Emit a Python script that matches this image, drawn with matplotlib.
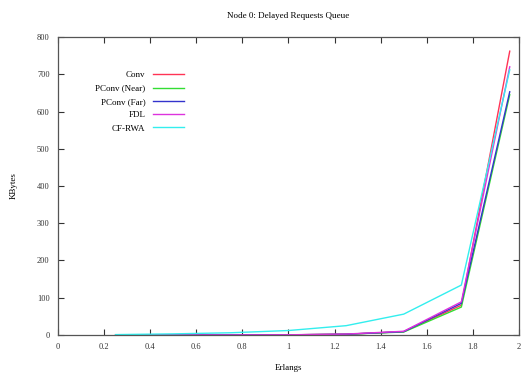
import matplotlib
matplotlib.use("Agg")
import matplotlib.pyplot as plt

plt.rcParams['font.family'] = ['Liberation Serif', 'DejaVu Serif']

erlangs = [0.25, 0.5, 0.75, 1.0, 1.25, 1.5, 1.75, 1.96]
conv = [0.0, 0.0, 0.1, 0.4, 2, 9, 80, 762]
pconv_near = [0.0, 0.0, 0.1, 0.4, 2, 8, 75, 645]
pconv_far = [0.0, 0.0, 0.1, 0.4, 2, 9, 85, 653]
fdl = [0.0, 0.0, 0.1, 0.5, 2.5, 10, 89, 720]
cfrwa = [1, 3, 6, 12, 25, 56, 134, 712]

series = [
    ("Conv", conv, "#ff3355"),
    ("PConv (Near)", pconv_near, "#33dd33"),
    ("PConv (Far)", pconv_far, "#3333cc"),
    ("FDL", fdl, "#dd33dd"),
    ("CF-RWA", cfrwa, "#33eeee"),
]

fig = plt.figure(figsize=(5.25, 3.72), dpi=100)
ax = fig.add_axes([0.1105, 0.0995, 0.878, 0.801])

for nombre, vals, col in series:
    ax.plot(erlangs, vals, color=col, lw=1.0, label=nombre)

ax.set_xlim(0, 2)
ax.set_ylim(0, 800)
ax.set_xticks([0, 0.2, 0.4, 0.6, 0.8, 1, 1.2, 1.4, 1.6, 1.8, 2])
ax.set_xticklabels(["0", "0.2", "0.4", "0.6", "0.8", "1", "1.2", "1.4", "1.6", "1.8", "2"])
ax.set_yticks(range(0, 801, 100))
ax.tick_params(direction="in", top=True, right=True, labelsize=6, length=4, width=0.8, pad=6, colors="#333333")
for s in ax.spines.values():
    s.set_color("#555555")
    s.set_linewidth(0.9)

ax.set_title("Node 0: Delayed Requests Queue", fontsize=6.5, pad=14)
ax.set_xlabel("Erlangs", fontsize=6.5, labelpad=9)
ax.set_ylabel("KBytes", fontsize=6.5, labelpad=14)

leg = ax.legend(loc="upper left", bbox_to_anchor=(0.063, 0.913), frameon=False,
                fontsize=6.5, markerfirst=False, handlelength=3.5, labelspacing=0.55)
for t in leg.get_texts():
    t.set_ha("right")

fig.savefig("out.png", dpi=100)
